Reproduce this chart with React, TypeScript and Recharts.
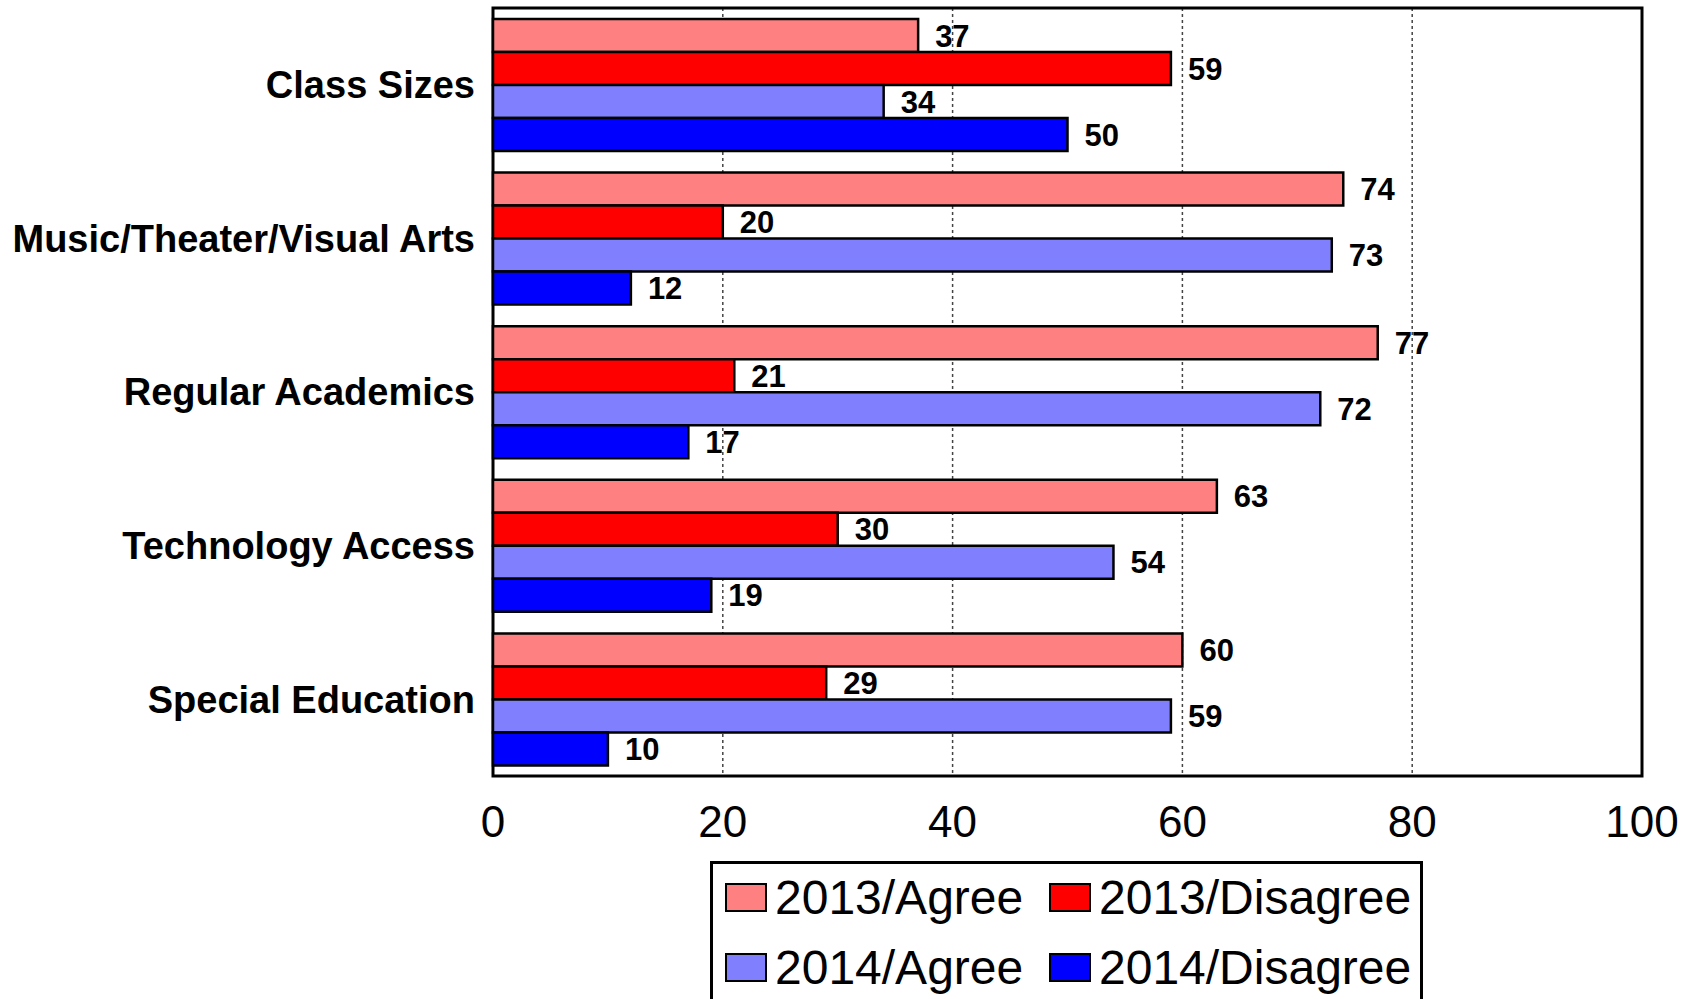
import { BarChart, Bar, XAxis, YAxis, CartesianGrid, ReferenceArea, LabelList } from 'recharts';

const categories = ['Class Sizes', 'Music/Theater/Visual Arts', 'Regular Academics', 'Technology Access', 'Special Education'];
const agree2013 = [37, 74, 77, 63, 60];
const disagree2013 = [59, 20, 21, 30, 29];
const agree2014 = [34, 73, 72, 54, 59];
const disagree2014 = [50, 12, 17, 19, 10];
const xTicks = [0, 20, 40, 60, 80, 100];

const series = [
  { key: 'agree2013', name: '2013/Agree', color: '#FF8080', values: agree2013 },
  { key: 'disagree2013', name: '2013/Disagree', color: '#FF0000', values: disagree2013 },
  { key: 'agree2014', name: '2014/Agree', color: '#8080FF', values: agree2014 },
  { key: 'disagree2014', name: '2014/Disagree', color: '#0000FF', values: disagree2014 },
];

const data = categories.map((name, i) => {
  const row: Record<string, string | number> = { name };
  series.forEach((s) => {
    row[s.key] = s.values[i];
  });
  return row;
});

const font = '"Liberation Sans", Arial, sans-serif';

const App = () => {
  return (
    <div style={{ position: 'relative', width: 1694, height: 999, background: '#fff', fontFamily: font }}>
      <style>{'body{margin:0}'}</style>
      <BarChart
        width={1694}
        height={999}
        data={data}
        layout="vertical"
        margin={{ top: 8, right: 52, bottom: 0, left: 0 }}
        barGap={0}
        barCategoryGap={11}
      >
        <CartesianGrid horizontal={false} stroke="#444" strokeDasharray="3 3" strokeWidth={1.5} />
        <XAxis
          type="number"
          domain={[0, 100]}
          ticks={xTicks}
          axisLine={false}
          tickLine={false}
          tickSize={0}
          tickMargin={30}
          height={223}
          tick={{ fontSize: 44, fill: '#000', fontFamily: font }}
        />
        <YAxis
          type="category"
          dataKey="name"
          width={493}
          axisLine={false}
          tickLine={false}
          tickSize={0}
          tickMargin={18}
          tick={{ fontSize: 38, fontWeight: 'bold', fill: '#000', fontFamily: font }}
        />
        {series.map((s) => (
          <Bar key={s.key} dataKey={s.key} name={s.name} fill={s.color} stroke="#000" strokeWidth={2.5} isAnimationActive={false}>
            <LabelList
              dataKey={s.key}
              position="right"
              offset={17}
              style={{ fontSize: 31, fontWeight: 'bold', fill: '#000', fontFamily: font }}
            />
          </Bar>
        ))}
        <ReferenceArea x1={0} x2={100} fill="none" stroke="#000" strokeWidth={3} ifOverflow="visible" />
      </BarChart>
      <div
        style={{
          position: 'absolute',
          left: 710,
          top: 861,
          width: 713,
          height: 150,
          border: '3px solid #000',
          boxSizing: 'border-box',
        }}
      />
      {series.map((s, i) => {
        const col = i % 2;
        const row = Math.floor(i / 2);
        return (
          <div key={s.key}>
            <div
              style={{
                position: 'absolute',
                left: 725 + col * 324,
                top: 883 + row * 70,
                width: 42,
                height: 29,
                background: s.color,
                border: '2.5px solid #000',
                boxSizing: 'border-box',
              }}
            />
            <div
              style={{
                position: 'absolute',
                left: 775 + col * 324,
                top: 874 + row * 70,
                fontSize: 48,
                lineHeight: 1,
                color: '#000',
                whiteSpace: 'nowrap',
              }}
            >
              {s.name}
            </div>
          </div>
        );
      })}
    </div>
  );
};

export default App;
